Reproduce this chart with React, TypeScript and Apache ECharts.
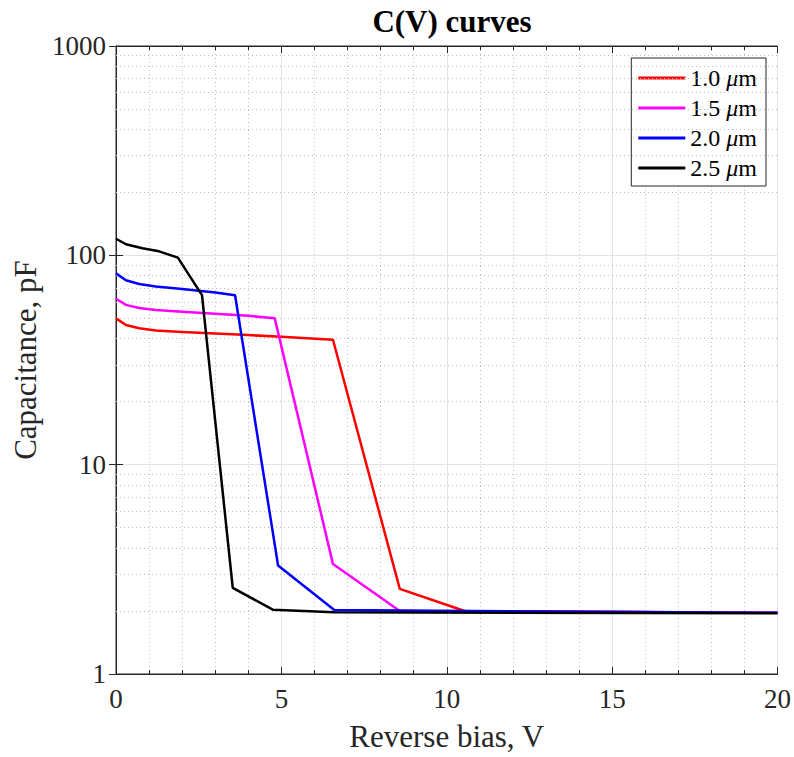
import React, { useEffect, useRef } from "react";
import * as echarts from "echarts";

const seriesNames = ["1.0 μm", "1.5 μm", "2.0 μm", "2.5 μm"];
const seriesColors = ["#ff0000", "#ff00ff", "#0000ff", "#000000"];

const v10 = [0, 0.3, 0.7, 1.2, 2, 3, 4, 5, 6.56, 8.58, 10.54, 20];
const c10 = [50, 46.5, 44.8, 43.8, 43, 42.3, 41.6, 40.8, 39.5, 2.55, 2.0, 1.96];

const v15 = [0, 0.3, 0.7, 1.2, 2, 3, 4, 4.8, 6.56, 8.58, 20];
const c15 = [62, 58, 56, 54.8, 53.8, 52.6, 51.4, 50, 3.35, 2.0, 1.96];

const v20 = [0, 0.3, 0.7, 1.2, 2, 3, 3.6, 4.9, 6.6, 20];
const c20 = [82, 76, 73, 71, 69, 66.5, 64.5, 3.3, 2.02, 1.96];

const v25 = [0, 0.3, 0.8, 1.3, 1.87, 2.6, 3.53, 4.74, 6.6, 20];
const c25 = [120, 113, 108, 104.5, 97.5, 64.5, 2.58, 2.03, 1.97, 1.95];

const xTicks = [0, 5, 10, 15, 20];
const yTicks = [1, 10, 100, 1000];
const yMinorGrid = [2, 3, 4, 5, 6, 7, 8, 9, 20, 30, 40, 50, 60, 70, 80, 90, 200, 300, 400, 500, 600, 700, 800, 900];

const voltages = [v10, v15, v20, v25];
const caps = [c10, c15, c20, c25];

const FONT = "'Liberation Serif', 'Times New Roman', serif";
const TXT = "#262626";

export default function App() {
  const ref = useRef<HTMLDivElement>(null);
  useEffect(() => {
    if (!ref.current) return;
    const chart = echarts.init(ref.current, undefined, { renderer: "svg" });
    const lineSeries = seriesNames.map((name, i) => ({
      name,
      type: "line",
      data: voltages[i].map((v, j) => [v, caps[i][j]]),
      symbol: "none",
      z: 5 + i,
      lineStyle: { color: seriesColors[i], width: 2.5 },
      itemStyle: { color: seriesColors[i] },
    }));
    const gridSeries = {
      name: "minor-grid",
      type: "line",
      data: [],
      z: 1,
      silent: true,
      markLine: {
        silent: true,
        symbol: ["none", "none"],
        label: { show: false },
        lineStyle: { type: [1, 3], color: "#bdbdbd", width: 1 },
        data: yMinorGrid.map((y) => ({ yAxis: y })),
      },
    };
    const tickStyle = { color: "#262626", width: 1 };
    chart.setOption({
      animation: false,
      textStyle: { fontFamily: FONT },
      title: {
        text: "C(V) curves",
        left: 447,
        top: 1,
        textAlign: "center",
        textStyle: { fontFamily: FONT, fontWeight: "bold", fontSize: 31, color: "#000" },
      },
      grid: {
        left: 116,
        right: 16,
        top: 46,
        bottom: 76,
        show: true,
        borderColor: "#262626",
        borderWidth: 1,
      },
      legend: {
        data: seriesNames.map((n) => ({ name: n, icon: "rect" })),
        orient: "vertical",
        right: 28,
        top: 58,
        padding: [8, 9, 6, 7],
        itemWidth: 47,
        itemHeight: 3,
        itemGap: 6,
        itemStyle: { borderWidth: 0 },
        lineStyle: { width: 0 },
        backgroundColor: "#ffffff",
        borderColor: "#262626",
        borderWidth: 1,
        borderRadius: 0,
        formatter: (name: string) => {
          const parts = name.split("μ");
          return "{n|" + parts[0] + "}{i|μ}{n|" + parts[1] + "}";
        },
        textStyle: {
          fontFamily: FONT,
          fontSize: 24,
          color: "#000",
          rich: {
            n: { fontFamily: FONT, fontSize: 24, color: "#000" },
            i: { fontFamily: FONT, fontSize: 24, color: "#000", fontStyle: "italic" },
          },
        },
      },
      xAxis: [
        {
          type: "value",
          min: 0,
          max: 20,
          interval: 5,
          name: "Reverse bias, V",
          nameLocation: "middle",
          nameGap: 47,
          nameTextStyle: { fontFamily: FONT, fontSize: 31, color: TXT },
          axisLine: { show: true, lineStyle: { color: "#262626" } },
          axisTick: { show: true, inside: true, length: 7, lineStyle: tickStyle },
          minorTick: { show: true, splitNumber: 5, length: 4, lineStyle: tickStyle },
          axisLabel: {
            fontFamily: FONT,
            fontSize: 27,
            color: TXT,
            margin: 11,
            formatter: (v: number) => (xTicks.includes(v) ? String(v) : ""),
          },
          splitLine: { show: true, lineStyle: { color: "#e3e3e3", width: 1 } },
          minorSplitLine: { show: true, lineStyle: { color: "#bdbdbd", type: [1, 3], width: 1 } },
        },
        {
          type: "value",
          position: "top",
          min: 0,
          max: 20,
          interval: 5,
          axisLine: { show: true, lineStyle: { color: "#262626" } },
          axisTick: { show: true, inside: true, length: 7, lineStyle: tickStyle },
          minorTick: { show: true, splitNumber: 5, length: 4, lineStyle: tickStyle },
          axisLabel: { show: false },
          splitLine: { show: false },
        },
      ],
      yAxis: [
        {
          type: "log",
          logBase: 10,
          min: 1,
          max: 1000,
          name: "Capacitance, pF",
          nameLocation: "middle",
          nameGap: 70,
          nameTextStyle: { fontFamily: FONT, fontSize: 31, color: TXT },
          axisLine: { show: true, lineStyle: { color: "#262626" } },
          axisTick: { show: true, inside: true, length: 7, lineStyle: tickStyle },
          axisLabel: {
            fontFamily: FONT,
            fontSize: 27,
            color: TXT,
            margin: 10,
            formatter: (v: number) => (yTicks.includes(Math.round(v)) ? String(Math.round(v)) : ""),
          },
          splitLine: { show: true, lineStyle: { color: "#e3e3e3", width: 1 } },
        },
        {
          type: "log",
          logBase: 10,
          min: 1,
          max: 1000,
          position: "right",
          axisLine: { show: true, lineStyle: { color: "#262626" } },
          axisTick: { show: true, inside: true, length: 7, lineStyle: tickStyle },
          axisLabel: { show: false },
          splitLine: { show: false },
        },
      ],
      series: [gridSeries, ...lineSeries],
    });
    return () => chart.dispose();
  }, []);
  return (
    <div
      ref={ref}
      style={{ position: "fixed", left: 0, top: 0, width: 794, height: 757, background: "#fff" }}
    />
  );
}
